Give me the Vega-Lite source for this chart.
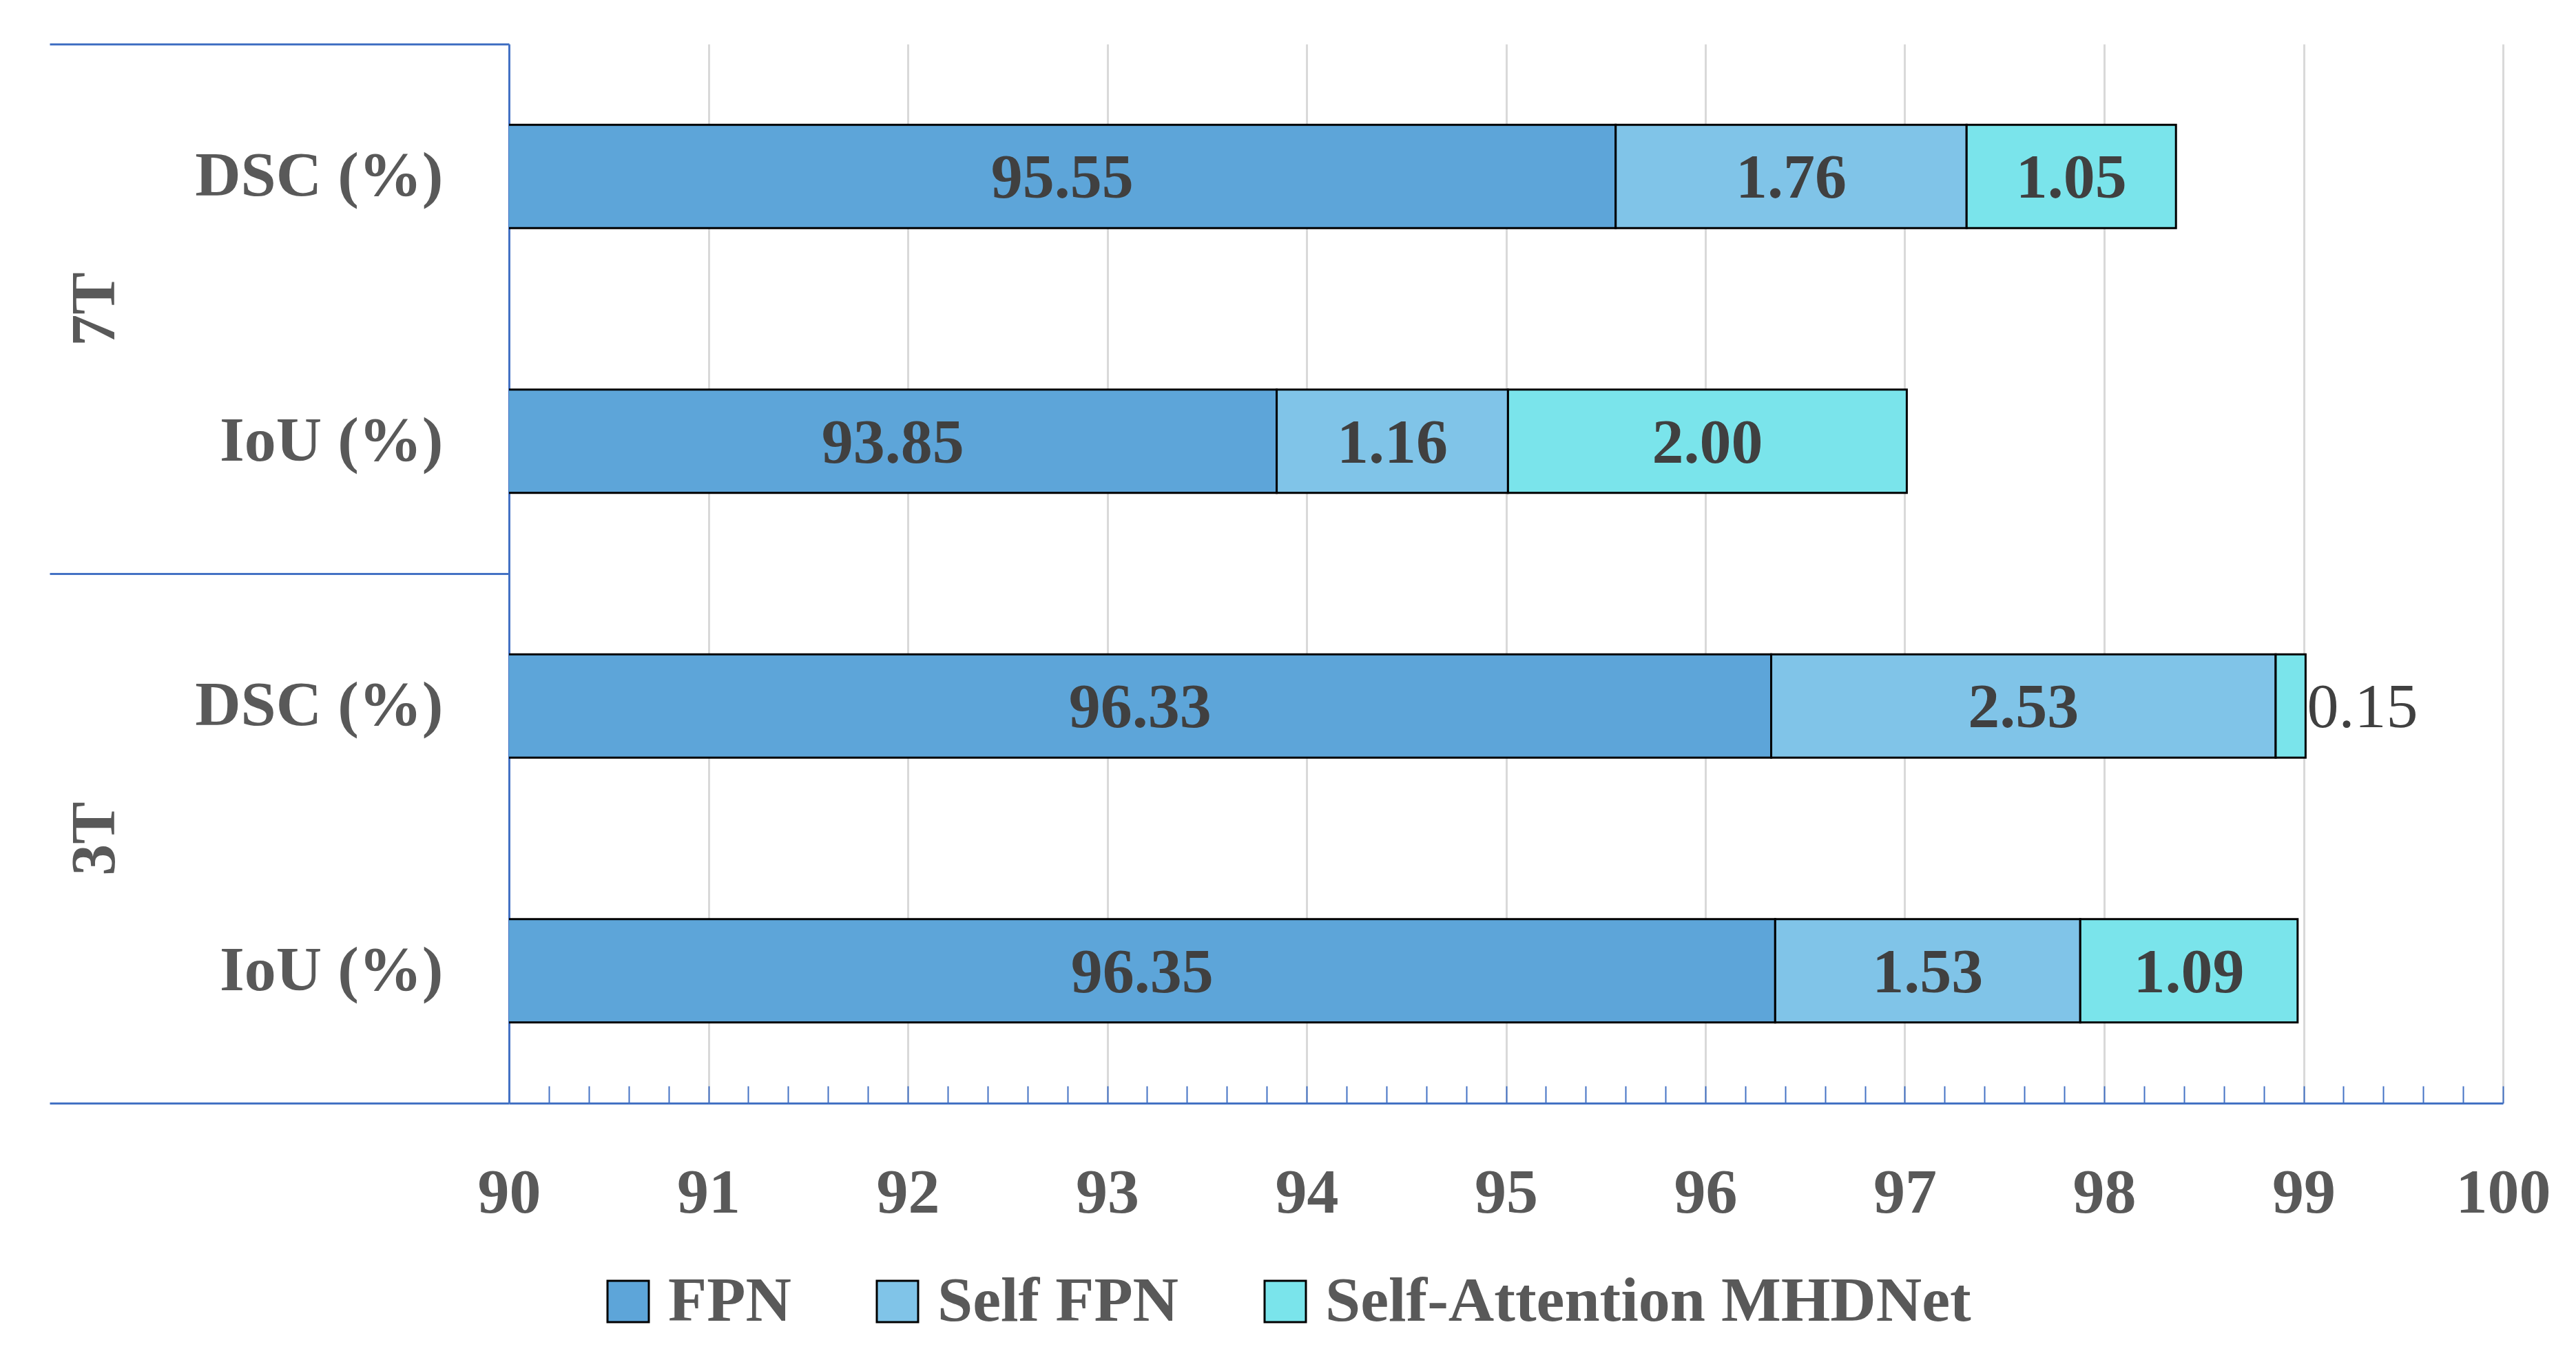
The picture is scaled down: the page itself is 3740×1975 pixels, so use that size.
{
  "$schema": "https://vega.github.io/schema/vega-lite/v6.json",
  "width": 2895,
  "height": 1538,
  "padding": {"left": 70, "top": 62, "right": 0, "bottom": 30},
  "background": "white",
  "data": {
    "values": [
      {"group": "7T", "row": "7T|DSC (%)", "series": "FPN", "order": 1, "value": 95.55},
      {"group": "7T", "row": "7T|DSC (%)", "series": "Self FPN", "order": 2, "value": 1.76},
      {"group": "7T", "row": "7T|DSC (%)", "series": "Self-Attention MHDNet", "order": 3, "value": 1.05},
      {"group": "7T", "row": "7T|IoU (%)", "series": "FPN", "order": 1, "value": 93.85},
      {"group": "7T", "row": "7T|IoU (%)", "series": "Self FPN", "order": 2, "value": 1.16},
      {"group": "7T", "row": "7T|IoU (%)", "series": "Self-Attention MHDNet", "order": 3, "value": 2.00},
      {"group": "3T", "row": "3T|DSC (%)", "series": "FPN", "order": 1, "value": 96.33},
      {"group": "3T", "row": "3T|DSC (%)", "series": "Self FPN", "order": 2, "value": 2.53},
      {"group": "3T", "row": "3T|DSC (%)", "series": "Self-Attention MHDNet", "order": 3, "value": 0.15},
      {"group": "3T", "row": "3T|IoU (%)", "series": "FPN", "order": 1, "value": 96.35},
      {"group": "3T", "row": "3T|IoU (%)", "series": "Self FPN", "order": 2, "value": 1.53},
      {"group": "3T", "row": "3T|IoU (%)", "series": "Self-Attention MHDNet", "order": 3, "value": 1.09}
    ]
  },
  "layer": [
    {
      "encoding": {
        "y": {
          "field": "row", "type": "nominal",
          "sort": ["7T|DSC (%)", "7T|IoU (%)", "3T|DSC (%)", "3T|IoU (%)"],
          "scale": {"paddingInner": 0, "paddingOuter": 0},
          "axis": {
            "title": null, "ticks": false,
            "labelExpr": "split(datum.label, '|')[1]",
            "labelPadding": 96, "labelAlign": "right", "labelBaseline": "middle", "labelLimit": 0,
            "labelFont": "Liberation Serif", "labelFontSize": 92, "labelFontWeight": "bold", "labelColor": "#595959",
            "domainColor": "#4472C4", "domainWidth": 3, "grid": false
          }
        }
      },
      "layer": [
        {
          "mark": {"type": "bar", "clip": true, "stroke": "black", "strokeWidth": 3, "height": {"band": 0.39}},
          "encoding": {
            "x": {
              "field": "value", "type": "quantitative", "stack": "zero",
              "scale": {"domain": [90, 100], "nice": false, "zero": false},
              "axis": {
                "title": null,
                "values": [90, 90.2, 90.4, 90.6, 90.8, 91, 91.2, 91.4, 91.6, 91.8, 92, 92.2, 92.4, 92.6, 92.8, 93, 93.2, 93.4, 93.6, 93.8, 94, 94.2, 94.4, 94.6, 94.8, 95, 95.2, 95.4, 95.6, 95.8, 96, 96.2, 96.4, 96.6, 96.8, 97, 97.2, 97.4, 97.6, 97.8, 98, 98.2, 98.4, 98.6, 98.8, 99, 99.2, 99.4, 99.6, 99.8, 100],
                "labelExpr": "datum.value % 1 === 0 ? format(datum.value, 'd') : ''",
                "labelFont": "Liberation Serif", "labelFontSize": 92, "labelFontWeight": "bold", "labelColor": "#595959",
                "labelPadding": 110, "labelFlush": false, "labelOverlap": false, "labelLimit": 0,
                "domainColor": "#4472C4", "domainWidth": 3,
                "tickColor": "#4472C4", "tickWidth": 2, "tickSize": -25,
                "grid": true, "gridColor": "#D9D9D9", "gridWidth": 3,
                "gridOpacity": {"condition": {"test": "datum.value % 1 === 0", "value": 1}, "value": 0}
              }
            },
            "color": {
              "field": "series", "type": "nominal",
              "scale": {"domain": ["FPN", "Self FPN", "Self-Attention MHDNet"], "range": ["#5DA5D9", "#80C4E8", "#7AE4EB"]},
              "legend": {
                "title": null, "orient": "none", "legendX": 127, "legendY": 1780, "direction": "horizontal",
                "symbolType": "square", "symbolSize": 3600, "symbolStrokeColor": "black", "symbolStrokeWidth": 3,
                "labelFont": "Liberation Serif", "labelFontSize": 92, "labelFontWeight": "bold", "labelColor": "#595959",
                "labelOffset": 12, "columnPadding": 108, "labelLimit": 0
              }
            },
            "order": {"field": "order", "type": "quantitative"}
          }
        },
        {
          "mark": {"type": "text", "clip": true, "font": "Liberation Serif", "fontSize": 92, "fontWeight": "bold", "fill": "#404040", "baseline": "middle", "dy": 3},
          "encoding": {
            "x": {"field": "value", "type": "quantitative", "stack": "zero", "bandPosition": 0.5, "scale": {"domain": [90, 100], "nice": false, "zero": false}},
            "detail": {"field": "series"},
            "order": {"field": "order", "type": "quantitative"},
            "text": {"condition": {"test": "datum.series === 'FPN' || datum.value < 0.5", "value": ""}, "field": "value", "type": "quantitative", "format": ".2f"}
          }
        },
        {
          "transform": [
            {"stack": "value", "groupby": ["row"], "sort": [{"field": "order", "order": "ascending"}], "as": ["s0", "s1"]},
            {"filter": "datum.value < 0.5"}
          ],
          "mark": {"type": "text", "font": "Liberation Serif", "fontSize": 92, "fill": "#404040", "baseline": "middle", "align": "left", "dx": 2, "dy": 3},
          "encoding": {
            "x": {"field": "s1", "type": "quantitative", "scale": {"domain": [90, 100], "nice": false, "zero": false}},
            "text": {"field": "value", "type": "quantitative", "format": ".2f"}
          }
        }
      ]
    },
    {
      "transform": [{"filter": "datum.series === 'FPN'"}],
      "mark": {"type": "text", "font": "Liberation Serif", "fontSize": 92, "fontWeight": "bold", "fill": "#404040", "baseline": "middle", "dy": 3},
      "encoding": {
        "x": {"field": "value", "type": "quantitative", "stack": null, "scale": {"domain": [90, 110], "nice": false, "zero": false}, "axis": null},
        "y": {
          "field": "row", "type": "nominal",
          "sort": ["7T|DSC (%)", "7T|IoU (%)", "3T|DSC (%)", "3T|IoU (%)"],
          "scale": {"paddingInner": 0, "paddingOuter": 0},
          "axis": null
        },
        "text": {"field": "value", "type": "quantitative", "format": ".2f"}
      }
    },
    {
      "mark": {"type": "rect", "opacity": 0},
      "encoding": {
        "y": {
          "field": "group", "type": "nominal", "sort": ["7T", "3T"],
          "scale": {"paddingInner": 0, "paddingOuter": 0},
          "axis": {
            "orient": "left", "title": null, "domain": false, "grid": false,
            "ticks": true, "tickBand": "extent", "tickSize": 667, "tickColor": "#4472C4", "tickWidth": 3,
            "labelAngle": -90, "labelAlign": "center", "labelBaseline": "bottom", "labelPadding": -112,
            "labelFont": "Liberation Serif", "labelFontSize": 92, "labelFontWeight": "bold", "labelColor": "#595959"
          }
        }
      }
    }
  ],
  "resolve": {"scale": {"x": "independent", "y": "independent"}},
  "config": {"view": {"stroke": null}, "font": "Liberation Serif"}
}
